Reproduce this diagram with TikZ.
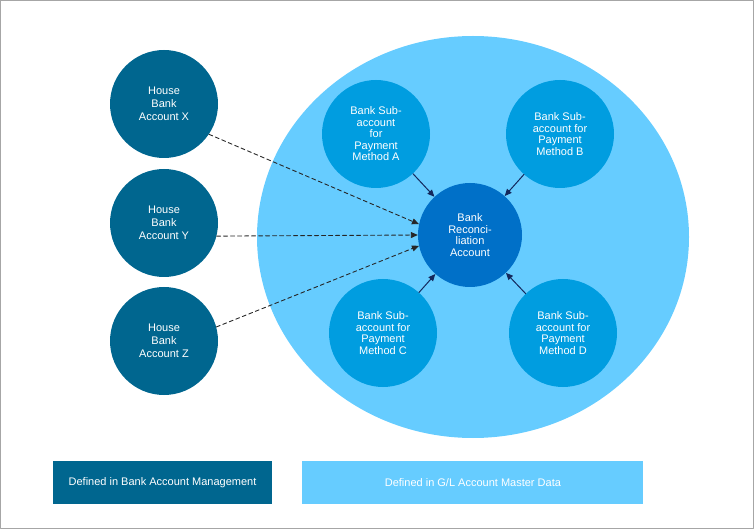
\documentclass[tikz,border=0pt]{standalone}
\usepackage{fontspec}
\setmainfont{Liberation Sans}
\usetikzlibrary{arrows.meta, positioning}
\definecolor{housecol}{RGB}{0, 102, 143}
\definecolor{glcol}{RGB}{102, 204, 255}
\definecolor{subcol}{RGB}{0, 157, 224}
\definecolor{reccol}{RGB}{0, 112, 200}
\definecolor{navyarrow}{RGB}{20, 40, 92}
\definecolor{framegray}{RGB}{166, 166, 166}

\begin{document}
\begin{tikzpicture}[x=1pt, y=-1pt, line cap=round, line join=round,
    housebox/.style={circle, fill=housecol, text=white, minimum size=108pt, inner sep=0pt, align=center, font=\fontsize{11}{13}\selectfont},
    subbox/.style={circle, fill=subcol, text=white, minimum size=108pt, inner sep=0pt, align=center, font=\fontsize{11}{11.5}\selectfont},
    recbox/.style={circle, fill=reccol, text=white, minimum size=104pt, inner sep=0pt, align=center, font=\fontsize{11}{11.5}\selectfont},
    legendbox/.style={text=white, minimum height=43pt, inner sep=0pt, font=\fontsize{11}{13}\selectfont},
    dashlink/.style={-{Triangle[length=7pt,width=6pt]}, dashed, dash pattern=on 4pt off 3pt, line width=0.9pt, black!85},
    sublink/.style={-{Triangle[length=7pt,width=6pt]}, line width=1pt, navyarrow}]
		% frame
		\useasboundingbox (0,0) rectangle (755,529);
		\draw [framegray, line width=1pt] (0.5,0.5) rectangle (753.5,528);
		
		% G/L area
		\fill [glcol] (473,237) ellipse [x radius=216, y radius=201];
		
		% house bank accounts
		\node [housebox] (X) at (164,104) {House\\Bank\\Account X};
		\node [housebox] (Y) at (164,223) {House\\Bank\\Account Y};
		\node [housebox] (Z) at (164,341) {House\\Bank\\Account Z};
		
		% reconciliation and sub-accounts
		\node [recbox] (rec) at (470,235) {Bank\\Reconci-\\liation\\Account};
		\node [subbox] (A) at (376,134) {Bank Sub-\\account\\for\\Payment\\Method A};
		\node [subbox] (B) at (560,134) {Bank Sub-\\account for\\Payment\\Method B};
		\node [subbox] (C) at (383,333) {Bank Sub-\\account for\\Payment\\Method C};
		\node [subbox] (D) at (563,333) {Bank Sub-\\account for\\Payment\\Method D};
		
		\draw [dashlink] (X.-34) -- (rec.168);
		\draw [dashlink] (Y.-14) -- (rec.180);
		\draw [dashlink] (Z.15) -- (rec.192);
		
		\draw [sublink] (A) -- (rec);
		\draw [sublink] (B) -- (rec);
		\draw [sublink] (C) -- (rec);
		\draw [sublink] (D) -- (rec);
		
		% legend
		\node [legendbox, fill=housecol, minimum width=219pt] (bam) at (162.5,482.5) {Defined in Bank Account Management};
		\node [legendbox, fill=glcol, minimum width=341pt, right=30pt of bam] (gl) {Defined in G/L Account Master Data};
    \end{tikzpicture}
\end{document}
